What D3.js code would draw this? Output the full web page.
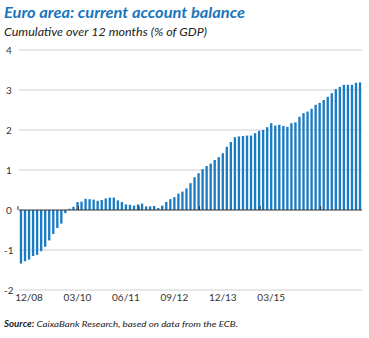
<!DOCTYPE html>
<html>
<head>
<meta charset="utf-8">
<script src="https://cdn.jsdelivr.net/npm/d3@7"></script>
<style>
  body { margin: 0; background: #fff; }
  text { font-family: Lato, "Open Sans", sans-serif; }
</style>
</head>
<body>
<div id="chart"></div>
<script>
// Monthly data, 12/08 .. 12/15 (85 months)
const startYear = 2008, startMonth = 12;
const balance = [
  -1.34, -1.28, -1.24, -1.15, -1.12, -1.03, -0.92, -0.76, -0.60, -0.45,
  -0.34, -0.08, 0.03, 0.08, 0.20, 0.21, 0.28, 0.27, 0.26, 0.23,
  0.25, 0.29, 0.31, 0.31, 0.24, 0.20, 0.14, 0.13, 0.11, 0.14,
  0.16, 0.09, 0.09, 0.10, 0.05, 0.11, 0.20, 0.27, 0.32, 0.41,
  0.46, 0.54, 0.67, 0.82, 0.92, 1.02, 1.10, 1.16, 1.25, 1.32,
  1.42, 1.58, 1.70, 1.82, 1.84, 1.85, 1.86, 1.86, 1.92, 1.98,
  2.00, 2.07, 2.17, 2.11, 2.13, 2.10, 2.08, 2.17, 2.19, 2.33,
  2.42, 2.46, 2.53, 2.63, 2.68, 2.75, 2.83, 2.92, 3.02, 3.08,
  3.13, 3.13, 3.13, 3.18, 3.19
];
const yTicks = [-2, -1, 0, 1, 2, 3, 4];
const xTickLabels = ["12/08", "03/10", "06/11", "09/12", "12/13", "03/15"];

// month categories "MM/YY"
const months = balance.map((v, i) => {
  const m = (startMonth - 1 + i) % 12 + 1;
  const y = startYear + Math.floor((startMonth - 1 + i) / 12);
  return String(m).padStart(2, "0") + "/" + String(y % 100).padStart(2, "0");
});

const W = 369, H = 338;
const plot = { left: 19, right: 362, top: 50, bottom: 290 };
const blue = "#1b7cc3";

const svg = d3.select("#chart").append("svg")
  .attr("width", W).attr("height", H);

// Title block
svg.append("text")
  .attr("x", 4).attr("y", 18)
  .attr("fill", "#1a75bd")
  .attr("font-size", 15.5)
  .attr("font-weight", "bold")
  .attr("font-style", "italic")
  .attr("textLength", 241).attr("lengthAdjust", "spacingAndGlyphs")
  .text("Euro area: current account balance");

svg.append("text")
  .attr("x", 4).attr("y", 36)
  .attr("fill", "#222")
  .attr("font-size", 12)
  .attr("font-style", "italic")
  .attr("textLength", 203).attr("lengthAdjust", "spacingAndGlyphs")
  .text("Cumulative over 12 months (% of GDP)");

// Scales
const x = d3.scaleBand()
  .domain(months)
  .range([plot.left, plot.right])
  .paddingInner(0.42)
  .paddingOuter(0.2);

const y = d3.scaleLinear()
  .domain([-2, 4])
  .range([plot.bottom, plot.top]);

// Gridlines
svg.append("g")
  .selectAll("line")
  .data(yTicks.filter(t => t !== 0))
  .join("line")
  .attr("x1", plot.left).attr("x2", plot.right)
  .attr("y1", d => y(d)).attr("y2", d => y(d))
  .attr("stroke", "#cfcfcf").attr("stroke-width", 1);

// Y labels
svg.append("g")
  .selectAll("text")
  .data(yTicks)
  .join("text")
  .attr("x", d => d < 0 ? 4 : 6)
  .attr("y", d => y(d) + 3.5)
  .attr("font-size", 10)
  .attr("fill", "#333")
  .text(d => d);

// Bars
svg.append("g")
  .selectAll("rect")
  .data(balance)
  .join("rect")
  .attr("x", (d, i) => x(months[i]))
  .attr("width", x.bandwidth())
  .attr("y", d => y(Math.max(0, d)))
  .attr("height", d => Math.abs(y(d) - y(0)))
  .attr("fill", blue);

// Zero line
svg.append("line")
  .attr("x1", plot.left).attr("x2", plot.right)
  .attr("y1", y(0)).attr("y2", y(0))
  .attr("stroke", "#333").attr("stroke-width", 1);

// Tick marks every 15 months on the zero line
const tickIdx = d3.range(0, months.length, 15);
svg.append("g")
  .selectAll("line")
  .data(tickIdx)
  .join("line")
  .attr("x1", i => x(months[i]) - x.step() * x.paddingInner() / 2 - 1)
  .attr("x2", i => x(months[i]) - x.step() * x.paddingInner() / 2 - 1)
  .attr("y1", y(0)).attr("y2", y(0) - 4)
  .attr("stroke", "#333").attr("stroke-width", 1);

// X labels (placed every 12 bars, as in the original)
svg.append("g")
  .selectAll("text")
  .data(xTickLabels)
  .join("text")
  .attr("x", (d, k) => x(months[2 + 12 * k]) + x.bandwidth() / 2)
  .attr("y", 301)
  .attr("text-anchor", "middle")
  .attr("font-size", 10)
  .attr("fill", "#333")
  .text(d => d);

// Source
const src = svg.append("text")
  .attr("x", 4).attr("y", 327)
  .attr("font-size", 8.5)
  .attr("font-style", "italic")
  .attr("fill", "#222")
  .attr("textLength", 234).attr("lengthAdjust", "spacingAndGlyphs");
src.append("tspan").attr("font-weight", "bold").text("Source:");
src.append("tspan").text(" CaixaBank Research, based on data from the ECB.");
</script>
</body>
</html>
